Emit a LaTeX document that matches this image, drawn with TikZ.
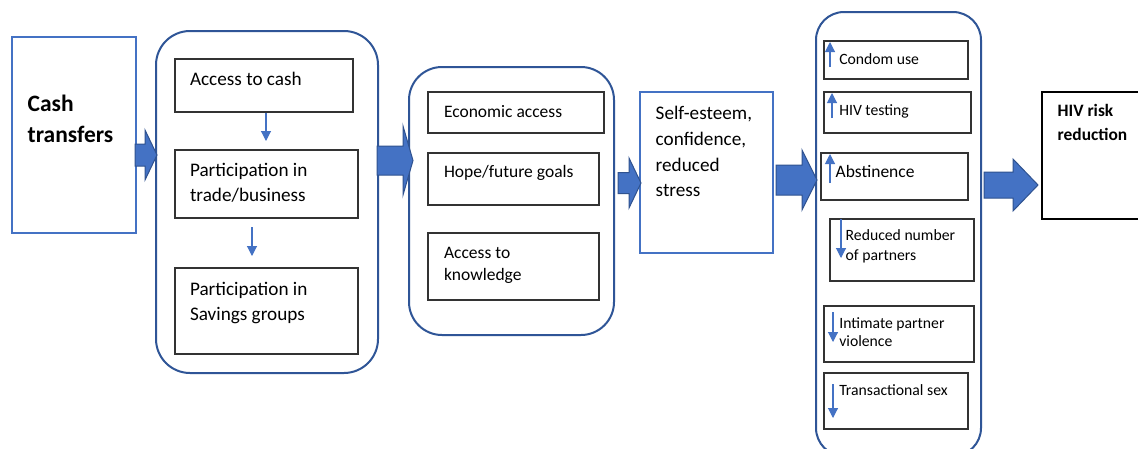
\documentclass[tikz,border=0pt]{standalone}
\usepackage{fontspec}
\setmainfont{Carlito}
\usetikzlibrary{arrows.meta}
\definecolor{bfill}{HTML}{4472C4}
\definecolor{bedge}{HTML}{2F528F}
\definecolor{gedge}{HTML}{2F5597}
\definecolor{ledge}{HTML}{4472C4}
\definecolor{kedge}{HTML}{333333}
\newcommand{\boxnode}[6]{\node[#1, minimum width={(#5)-(#3)}, minimum height={(#6)-(#4)}] (#2) at ({((#3)+(#5))/2},{((#4)+(#6))/2}) {};}
\newcommand{\tx}[5]{\node[txt, #1] (#2) at (#3,#4) {#5};}
\newcommand{\blockarrow}[7]{\draw[blockarr] (#2,{#5-#6}) -- (#3,{#5-#6}) -- (#3,{#5-#7}) -- (#4,#5) -- (#3,{#5+#7}) -- (#3,{#5+#6}) -- (#2,{#5+#6}) -- cycle;}
\begin{document}
\begin{tikzpicture}[x=1pt,y=-1pt,
  ibox/.style={draw=kedge, line width=1.2pt, inner sep=0pt, outer sep=0pt, rectangle},
  lbox/.style={draw=ledge, line width=2pt, inner sep=0pt, outer sep=0pt, rectangle},
  kbox/.style={draw=black, line width=1.5pt, inner sep=0pt, outer sep=0pt, rectangle},
  grp/.style={draw=gedge, line width=2pt, inner sep=0pt, outer sep=0pt, rectangle, rounded corners=#1},
  txt/.style={anchor=base west, inner sep=0pt, outer sep=0pt},
  fbig/.style={font=\fontsize{23.5}{28}\selectfont\bfseries},
  fhiv/.style={font=\fontsize{17.4}{21}\selectfont\bfseries},
  fa/.style={font=\fontsize{19.2}{23}\selectfont},
  fb/.style={font=\fontsize{17.5}{21}\selectfont},
  fc/.style={font=\fontsize{15.7}{19}\selectfont},
  sarr/.style={draw=bfill, line width=1.1pt, -{Triangle[width=10pt,length=10pt]}},
  blockarr/.style={fill=bfill, draw=bedge, line width=1pt, line join=miter}
]
\useasboundingbox (0,0) rectangle (1138,448);
\fill[white] (0,0) rectangle (1138,448);

% Cash transfers
\boxnode{lbox}{cash}{12}{37}{136}{233}
\tx{fbig}{cashA}{27.7}{111.7}{Cash}
\tx{fbig}{cashB}{27.7}{142.7}{transfers}

% Group 1
\boxnode{grp=34pt}{g1}{156}{31}{378}{373}
\boxnode{ibox}{acc}{175}{59}{353}{112}
\tx{fa}{accA}{190}{85.7}{Access to cash}
\boxnode{ibox}{trade}{175}{150}{358}{218}
\tx{fa}{tradeA}{190}{176.7}{Participation in}
\tx{fa}{tradeB}{190}{201.7}{trade/business}
\boxnode{ibox}{sav}{175}{268}{358}{354}
\tx{fa}{savA}{190}{295}{Participation in}
\tx{fa}{savB}{190}{320}{Savings groups}
\coordinate (a1s) at (266,113); \coordinate (a1e) at (266,141);
\coordinate (a2s) at (252,227); \coordinate (a2e) at (252,256);
\draw[sarr] (a1s) -- (a1e);
\draw[sarr] (a2s) -- (a2e);

% Group 2
\boxnode{grp=33pt}{g2}{409}{67}{614}{335}
\boxnode{ibox}{econ}{428}{92}{604}{133}
\tx{fb}{econA}{444}{117.3}{Economic access}
\boxnode{ibox}{hope}{428}{153}{599}{205}
\tx{fb}{hopeA}{444}{177.3}{Hope/future goals}
\boxnode{ibox}{know}{428}{233}{599}{300}
\tx{fb}{knowA}{444}{258.3}{Access to}
\tx{fb}{knowB}{444}{280.7}{knowledge}

% Self-esteem
\boxnode{lbox}{self}{640}{92}{773}{253}
\tx{fa}{selfA}{655.7}{119.3}{Self-esteem,}
\tx{fa}{selfB}{655.7}{145.5}{confidence,}
\tx{fa}{selfC}{655.7}{171}{reduced}
\tx{fa}{selfD}{655.7}{196.7}{stress}

% Group 3
\boxnode{grp=28pt}{g3}{816}{12}{981}{456}
\boxnode{ibox}{condom}{824}{41}{968}{79}
\tx{fc}{condomA}{839.3}{64}{Condom use}
\boxnode{ibox}{hivt}{824}{92}{971}{133}
\tx{fc}{hivtA}{839.3}{115}{HIV testing}
\boxnode{ibox}{abst}{821}{153}{968}{200}
\tx{fb}{abstA}{835.7}{177.3}{Abstinence}
\boxnode{ibox}{red}{830}{219}{974}{281}
\tx{fc}{redA}{845.7}{240.7}{Reduced number}
\tx{fc}{redB}{845.7}{260.7}{of partners}
\boxnode{ibox}{ipv}{824}{306}{974}{362}
\tx{fc}{ipvA}{839.3}{328.3}{Intimate partner}
\tx{fc}{ipvB}{839.3}{346.7}{violence}
\boxnode{ibox}{trans}{824}{373}{968}{429}
\tx{fc}{transA}{839.3}{395.7}{Transactional sex}
\draw[sarr] (830,67) -- (830,42);
\draw[sarr] (832,118) -- (832,93);
\draw[sarr] (830,183) -- (830,154);
\draw[sarr] (841,219) -- (841,258);
\draw[sarr] (833,312) -- (833,342);
\draw[sarr] (833,384) -- (833,418);

% HIV risk reduction
\boxnode{kbox}{hiv}{1042}{92}{1160}{219}
\tx{fhiv}{hivA}{1057.7}{116.7}{HIV risk}
\tx{fhiv}{hivB}{1057.7}{140}{reduction}

% Block arrows
\blockarrow{}{135}{145}{157}{155}{11}{25}
\blockarrow{}{377}{403}{413}{160.5}{14.5}{34.5}
\blockarrow{}{618}{629}{641}{183}{10.5}{25}
\blockarrow{}{776}{802}{817}{180}{15}{30}
\blockarrow{}{984}{1013}{1038}{185}{13}{26}
\end{tikzpicture}
\end{document}
